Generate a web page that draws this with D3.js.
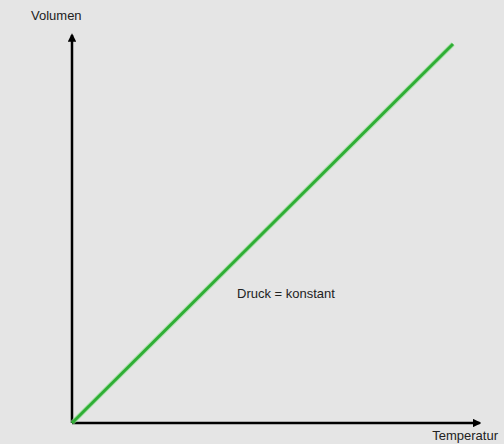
<!DOCTYPE html>
<html>
<head>
<meta charset="utf-8">
<script src="https://cdn.jsdelivr.net/npm/d3@7"></script>
<style>
  html, body { margin: 0; padding: 0; background: #e5e5e5; }
  svg { display: block; }
  text { font-family: "Liberation Sans", Arial, sans-serif; fill: #222; }
</style>
</head>
<body>
<svg id="chart" width="504" height="444"></svg>
<script>
// Gay-Lussac: volume grows linearly with temperature at constant pressure
const temperature = [0, 100];
const volume = [0, 100];
const axisLabels = ["Temperatur", "Volumen"];
const annotation = "Druck = konstant";

const svg = d3.select("#chart");

const x = d3.scaleLinear().domain([0, 100]).range([72, 453]);
const y = d3.scaleLinear().domain([0, 100]).range([423, 44]);

// axis extents reach a little beyond the data range
const xEnd = x(107);
const yEnd = y(102.4);

// arrow markers
const defs = svg.append("defs");
defs.append("marker")
  .attr("id", "arrow")
  .attr("viewBox", "0 0 10 10")
  .attr("refX", 8).attr("refY", 5)
  .attr("markerWidth", 3.4).attr("markerHeight", 3.4)
  .attr("markerUnits", "strokeWidth")
  .attr("orient", "auto")
  .append("path")
  .attr("d", "M0,0 L10,5 L0,10 Z")
  .attr("fill", "#000");

const axes = svg.append("g");
axes.append("line")
  .attr("x1", x(0)).attr("y1", y(0))
  .attr("x2", xEnd).attr("y2", y(0))
  .attr("stroke", "#000").attr("stroke-width", 2.5)
  .attr("marker-end", "url(#arrow)");
axes.append("line")
  .attr("x1", x(0)).attr("y1", y(0))
  .attr("x2", x(0)).attr("y2", yEnd)
  .attr("stroke", "#000").attr("stroke-width", 2.5)
  .attr("marker-end", "url(#arrow)");

// data line
const pts = temperature.map((t, i) => [t, volume[i]]);
const line = d3.line().x(d => x(d[0])).y(d => y(d[1]));
svg.append("path")
  .datum(pts)
  .attr("d", line)
  .attr("fill", "none")
  .attr("stroke", "#8fe08f")
  .attr("stroke-width", 5)
  .attr("opacity", 0.6);
svg.append("path")
  .datum(pts)
  .attr("d", line)
  .attr("fill", "none")
  .attr("stroke", "#2fae35")
  .attr("stroke-width", 3);

// labels
svg.append("text")
  .attr("x", 31).attr("y", 20)
  .attr("font-size", 13)
  .text(axisLabels[1]);
svg.append("text")
  .attr("x", 498).attr("y", 440)
  .attr("text-anchor", "end")
  .attr("font-size", 13)
  .text(axisLabels[0]);
svg.append("text")
  .attr("x", 237).attr("y", 298)
  .attr("font-size", 13)
  .text(annotation);
</script>
</body>
</html>
